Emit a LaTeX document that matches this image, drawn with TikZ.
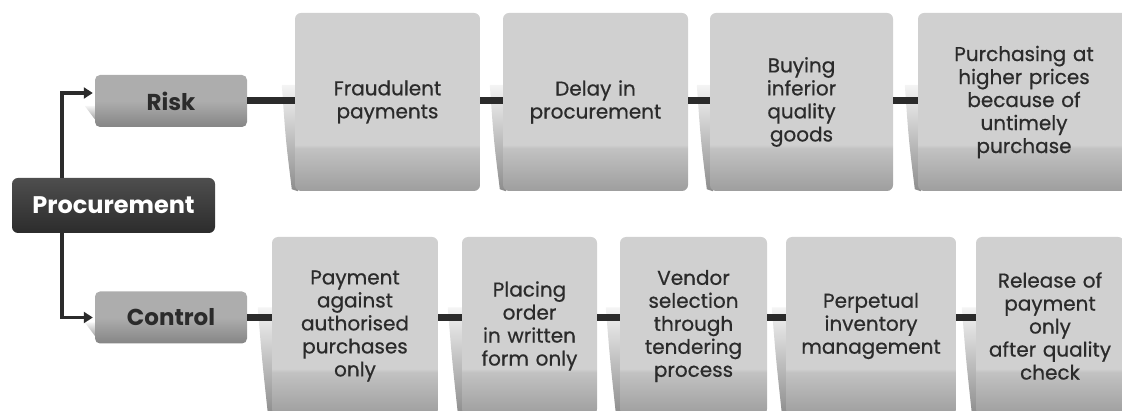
\documentclass[tikz,border=0pt]{standalone}
\usepackage{fontspec}
\setmainfont{Poppins}
\newfontface\cardfont{Poppins}[FakeBold=0.6]
\usepackage{xcolor}
\usepackage{tikz}
\usetikzlibrary{
  arrows.meta,
  positioning,
  calc,
  backgrounds,
}
\definecolor{ink}{HTML}{2B2B2B}
\definecolor{cardtop}{HTML}{D0D0D0}
\definecolor{cardmid}{HTML}{C2C2C2}
\definecolor{cardbot}{HTML}{9E9E9E}
\definecolor{headtop}{HTML}{ADADAD}
\definecolor{headbot}{HTML}{858585}
\definecolor{roottop}{HTML}{4E4E4E}
\definecolor{rootbot}{HTML}{2C2C2C}
\definecolor{curllight}{HTML}{F4F4F4}
\definecolor{curldark}{HTML}{8C8C8C}
% path bottom sits at 25bp, path top at 75bp
\pgfdeclareverticalshading{cardshade}{100bp}{color(0bp)=(cardbot); color(25bp)=(cardbot);
  color(37bp)=(cardmid); color(38bp)=(cardtop); color(100bp)=(cardtop)}
\pgfdeclareverticalshading{headshade}{100bp}{color(0bp)=(headbot); color(25bp)=(headbot);
  color(50bp)=(headtop); color(100bp)=(headtop)}
\tikzset{
  >=Stealth,
  itembox/.style={
    rounded corners=6pt,
    shading=cardshade,
    minimum height=178pt,
    text width=#1,
    inner sep=0pt,
    align=center,
    text=ink,
    font=\cardfont\fontsize{20}{23}\selectfont,
  },
  headbox/.style={
    rounded corners=5pt,
    shading=headshade,
    minimum width=152pt,
    minimum height=52pt,
    inner sep=0pt,
    text=ink,
    font=\bfseries\fontsize{23}{26}\selectfont,
  },
  rootbox/.style={
    rounded corners=6pt,
    top color=roottop,
    bottom color=rootbot,
    minimum width=203pt,
    minimum height=55pt,
    inner sep=0pt,
    text=white,
    font=\bfseries\fontsize{24}{27}\selectfont,
  },
  link/.style={draw=ink, line width=7pt},
  flow/.style={draw=ink, line width=3.5pt, -{Triangle[length=9pt,width=11pt]}},
  curlshade/.style={top color=curllight, bottom color=curldark},
}

\begin{document}
\begin{tikzpicture}[x=1pt,y=-1pt]
  \useasboundingbox (0,0) rectangle (1122,411);
  \clip (0,0) rectangle (1122,411);

  % root and branches
  \node[rootbox] (proc) at (113.5,205.5) {Procurement};
  \node[headbox] (risk) at (171,101) {Risk};
  \node[headbox] (ctl) at (171,317.5) {Control};
  \coordinate (trunk) at (62,205);
  \draw[flow, shorten >=2pt] (proc.north -| trunk) |- ([yshift=8pt]risk.west);
  \draw[flow, shorten >=2pt] (proc.south -| trunk) |- (ctl.west);

  % TOP row: risks
  \foreach \nm/\cx/\bw/\txt in {
      r1/387.5/185/{Fraudulent\\payments},
      r2/595.5/185/{Delay in\\procurement},
      r3/801.5/183/{Buying\\inferior\\quality\\goods},
      r4/1024/212/{Purchasing at\\higher prices\\because of\\untimely\\purchase}} {
    \node[itembox=\bw pt] (\nm) at (\cx,102) {\txt};
  }
  \foreach \a/\b in {risk/r1, r1/r2, r2/r3, r3/r4} {
    \draw[link] (\a.east |- risk.east) -- (\b.west |- risk.east);
  }

  % BOTTOM row: controls
  \foreach \nm/\cx/\bw/\txt in {
      c1/355/166/{Payment\\against\\authorised\\purchases\\only},
      c2/529.5/135/{Placing\\order\\in written\\form only},
      c3/693.5/147/{Vendor\\selection\\through\\tendering\\process},
      c4/871/170/{Perpetual\\inventory\\management},
      c5/1050/148/{Release of\\payment\\only\\after quality\\check}} {
    \node[itembox=\bw pt] (\nm) at (\cx,326) {\txt};
  }
  \foreach \a/\b in {ctl/c1, c1/c2, c2/c3, c3/c4, c4/c5} {
    \draw[link] (\a.east |- ctl.east) -- (\b.west |- ctl.east);
  }

  % page curls behind the boxes
  \begin{scope}[on background layer]
    \foreach \nm in {r1,r2,r3,r4} {
      \shade[curlshade] ($(\nm.west |- risk.east)+(-13,-16)$) -- ($(\nm.west |- risk.east)+(3,-16)$)
        -- ($(\nm.south west)+(3,0)$) -- ($(\nm.south west)+(-3,-2)$)
        .. controls ($(\nm.west |- risk.east)+(-9,40)$) .. cycle;
    }
    \foreach \nm in {c1,c2,c3,c4,c5} {
      \shade[curlshade] ($(\nm.west |- ctl.east)+(-14,-10)$) -- ($(\nm.west |- ctl.east)+(3,-10)$)
        -- ($(\nm.south west)+(3,0)$) -- ($(\nm.south west)+(-4,-2)$)
        .. controls ($(\nm.west |- ctl.east)+(-10,40)$) .. cycle;
    }
    \foreach \nm in {risk,ctl} {
      \shade[curlshade] ($(\nm.west)+(-10,5)$) -- ($(\nm.west)+(3,5)$)
        -- ($(\nm.south west)+(3,-4)$) -- cycle;
    }
  \end{scope}
\end{tikzpicture}
\end{document}
